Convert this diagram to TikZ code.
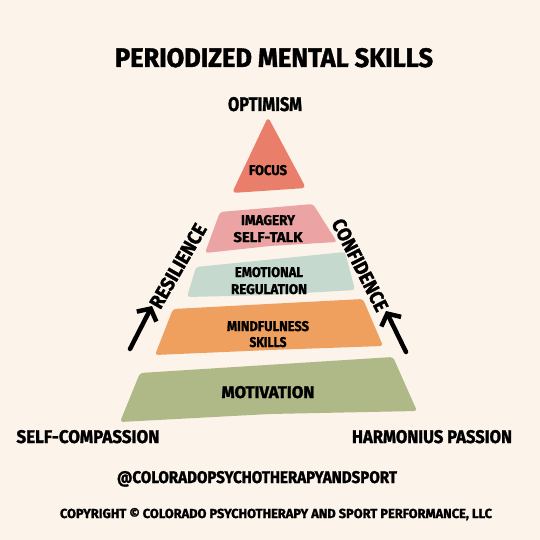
\documentclass[tikz,border=0pt]{standalone}
\usepackage{fontspec}
\setmainfont{Fira Sans}[BoldFeatures={FakeBold=1.5}]
\usepackage{graphicx}
\usetikzlibrary{arrows.meta}
\definecolor{PMBack}{HTML}{FCF3EA}
\definecolor{PMFocus}{HTML}{E97F6A}
\definecolor{PMImagery}{HTML}{EBA4A3}
\definecolor{PMEmotion}{HTML}{C5D9CF}
\definecolor{PMMindful}{HTML}{EF9F5E}
\definecolor{PMMotive}{HTML}{AFB987}
\newcommand{\capfit}[3]{\resizebox{#1bp}{#2bp}{\bfseries #3}}
\tikzset{
  band/.style={rounded corners=3bp},
  lbl/.style={anchor=base,inner sep=0pt,text=black},
  sidelbl/.style={anchor=center,inner sep=0pt,text=black},
  climb/.style={line width=4.5bp,line cap=round,-{Straight Barb[length=9bp,width=22bp,line width=4.5bp]}}
}

\begin{document}
\begin{tikzpicture}[x=1bp,y=-1bp]
\fill[PMBack] (0,0) rectangle (540,540);
\path[use as bounding box] (0,0) rectangle (540,540);
% pyramid layers
\fill[PMFocus,rounded corners=4bp] (268,117) -- (306,188) -- (232,193) -- cycle;
\fill[PMImagery,band] (220,212) -- (313,204) -- (337,242) -- (270,246) -- (205,253) -- cycle;
\fill[PMEmotion,band] (196,267) -- (345,252) -- (355,290) -- (270,295) -- (187,297) -- cycle;
\fill[PMMindful,band] (173,309) -- (363,299) -- (383,346) -- (270,350) -- (155,355) -- cycle;
\fill[PMMotive,band] (140,373) -- (393,357) -- (417,411) -- (270,414) -- (120,422) -- cycle;
% titles and layer labels
\node[lbl] (title) at (274,67) {\capfit{318}{19}{PERIODIZED MENTAL SKILLS}};
\node[lbl] (optimism) at (265,111) {\capfit{74}{14}{OPTIMISM}};
\node[lbl] (focus) at (268,175) {\capfit{38}{10}{FOCUS}};
\node[lbl] (imagery) at (268,225) {\capfit{54}{10}{IMAGERY}};
\node[lbl] (selftalk) at (268,242) {\capfit{69}{10}{SELF-TALK}};
\node[lbl] (emotional) at (269,277) {\capfit{68}{10}{EMOTIONAL}};
\node[lbl] (regulation) at (269,294) {\capfit{76}{10}{REGULATION}};
\node[lbl] (mindful) at (268,331) {\capfit{82}{10}{MINDFULNESS}};
\node[lbl] (skills) at (268,347) {\capfit{37}{10}{SKILLS}};
\node[lbl] (motivation) at (268,398) {\capfit{93}{12}{MOTIVATION}};
% side labels
\node[sidelbl,rotate=60] (resilience) at (178,266) {\capfit{94}{14}{RESILIENCE}};
\node[sidelbl,rotate=-63] (confidence) at (360,265) {\capfit{101}{14}{CONFIDENCE}};
\coordinate (resTail) at (130,349);
\coordinate (resTip) at (152,306);
\coordinate (conTail) at (406,352);
\coordinate (conTip) at (386,311);
\draw[climb] (resTail) -- (resTip);
\draw[climb] (conTail) -- (conTip);
% bottom corners and credits
\node[lbl] (selfcomp) at (88,443) {\capfit{143}{13}{SELF-COMPASSION}};
\node[lbl] (harmony) at (432,443) {\capfit{160}{13}{HARMONIUS PASSION}};
\node[lbl] (handle) at (257,483) {\capfit{280}{12}{@COLORADOPSYCHOTHERAPYANDSPORT}};
\node[lbl] (copyright) at (276,518) {\capfit{432}{10}{COPYRIGHT © COLORADO PSYCHOTHERAPY AND SPORT PERFORMANCE, LLC}};
\end{tikzpicture}
\end{document}
